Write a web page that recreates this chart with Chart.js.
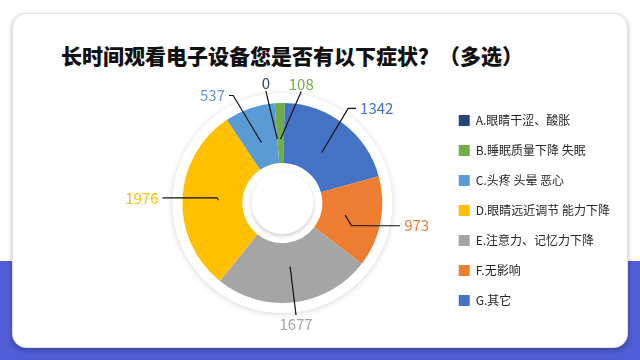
<!DOCTYPE html>
<html>
<head>
<meta charset="utf-8">
<script src="https://cdn.jsdelivr.net/npm/chart.js@4.4.0/dist/chart.umd.min.js"></script>
<style>
  body { margin: 0; width: 640px; height: 360px; position: relative; overflow: hidden; background: #fff; font-family: "Noto Sans CJK SC", sans-serif; }
  #band { position: absolute; left: 0; top: 261px; width: 640px; height: 99px; background: #505dd6; }
  #card { position: absolute; left: 12px; top: 13px; width: 614px; height: 333px; background: #fff; border: 1px solid #e2e2e2; border-radius: 14px; box-shadow: 0 2px 5px rgba(0,0,0,0.3); }
  #title { position: absolute; left: 61px; top: 40px; font-size: 21px; font-weight: 900; color: #111; white-space: nowrap; }
  #chart { position: absolute; left: 0; top: 0; }
</style>
</head>
<body>
<div id="band"></div>
<div id="card"></div>
<div id="title">长时间观看电子设备您是否有以下症状？（多选）</div>
<canvas id="chart" width="640" height="360"></canvas>
<script>
const categories = ['A.眼睛干涩、酸胀', 'B.睡眠质量下降 失眠', 'C.头疼 头晕 恶心', 'D.眼睛远近调节 能力下降', 'E.注意力、记忆力下降', 'F.无影响', 'G.其它'];
const counts = [0, 108, 537, 1976, 1677, 973, 1342];
const colors = ['#264478', '#70AD47', '#5B9BD5', '#FFC000', '#A5A5A5', '#ED7D31', '#4472C4'];
// slices go round clockwise from the top in this order (B first, A last)
const sliceOrder = [1, 6, 5, 4, 3, 2, 0];

// white rings round the doughnut + value labels with leader lines
const decorPlugin = {
    id: 'decor',
    beforeDatasetsDraw(chart) {
        const arc = chart.getDatasetMeta(0).data[0];
        const ctx = chart.ctx;
        ctx.save();
        ctx.shadowColor = 'rgba(0,0,0,0.16)';
        ctx.shadowBlur = 6;
        ctx.shadowOffsetY = 1;
        ctx.fillStyle = '#fff';
        ctx.beginPath();
        ctx.arc(arc.x, arc.y, arc.outerRadius + 10, 0, Math.PI * 2);
        ctx.fill();
        ctx.restore();
    },
    afterDatasetsDraw(chart) {
        const ctx = chart.ctx;
        const arcs = chart.getDatasetMeta(0).data;
        const cx = arcs[0].x, cy = arcs[0].y;
        const outer = arcs[0].outerRadius, inner = arcs[0].innerRadius;

        // inner raised circle
        ctx.save();
        ctx.shadowColor = 'rgba(0,0,0,0.2)';
        ctx.shadowBlur = 4;
        ctx.shadowOffsetY = 2;
        ctx.fillStyle = '#fff';
        ctx.beginPath();
        ctx.arc(cx, cy, inner - 9, 0, Math.PI * 2);
        ctx.fill();
        ctx.restore();

        // label angles, spread apart where slices are too thin
        const mids = arcs.map(a => (a.startAngle + a.endAngle) / 2);
        const angles = mids.slice();
        const minGap = 18 * Math.PI / 180;
        for (let k = 0; k < 60; k++) {
            for (let i = 0; i < angles.length; i++) {
                for (let j = i + 1; j < angles.length; j++) {
                    let d = angles[j] - angles[i];
                    while (d > Math.PI) d -= Math.PI * 2;
                    while (d <= -Math.PI) d += Math.PI * 2;
                    if (Math.abs(d) < minGap) {
                        const push = (minGap - Math.abs(d)) / 2 * (d < 0 ? -1 : 1);
                        angles[i] -= push;
                        angles[j] += push;
                    }
                }
            }
        }

        const ra = 64;
        const vals = chart.data.datasets[0].data;
        const cols = chart.data.datasets[0].backgroundColor;
        ctx.save();
        ctx.font = '15px "Noto Sans CJK SC"';
        ctx.strokeStyle = '#111';
        ctx.lineWidth = 1.2;
        arcs.forEach((a, i) => {
            const ax = cx + Math.cos(mids[i]) * ra;
            const ay = cy + Math.sin(mids[i]) * ra;
            const ux = Math.cos(angles[i]), uy = Math.sin(angles[i]);
            const side = Math.abs(ux) > 0.4;
            const rl = side ? outer + 20 : outer + 13;
            const px = cx + ux * rl, py = cy + uy * rl;
            ctx.beginPath();
            ctx.moveTo(ax, ay);
            ctx.fillStyle = cols[i];
            if (side) {
                const s = ux > 0 ? 1 : -1;
                const k = Math.min(Math.abs(py - ay) * 0.6, Math.abs(px - ax));
                ctx.lineTo(ax + s * k, py);
                ctx.lineTo(px, py);
                ctx.stroke();
                ctx.textAlign = s > 0 ? 'left' : 'right';
                ctx.textBaseline = 'middle';
                ctx.fillText(String(vals[i]), px + s * 4, py);
            } else {
                ctx.lineTo(px, py);
                ctx.stroke();
                ctx.textAlign = 'center';
                ctx.textBaseline = uy < 0 ? 'bottom' : 'top';
                ctx.fillText(String(vals[i]), px, uy < 0 ? py : py + 2);
            }
        });
        ctx.restore();
    }
};

new Chart(document.getElementById('chart'), {
    type: 'doughnut',
    data: {
        labels: sliceOrder.map(i => categories[i]),
        datasets: [{
            data: sliceOrder.map(i => counts[i]),
            backgroundColor: sliceOrder.map(i => colors[i]),
            borderWidth: 0,
            radius: 100,
            cutout: '40%'
        }]
    },
    options: {
        responsive: false,
        animation: false,
        events: [],
        rotation: -4.5,
        layout: { padding: { left: 124, right: 20, top: 56, bottom: 10 } },
        plugins: {
            tooltip: { enabled: false },
            legend: {
                position: 'right',
                align: 'start',
                title: { display: true, text: ' ', padding: { top: 26 } },
                labels: {
                    boxWidth: 11,
                    boxHeight: 11,
                    padding: 18,
                    color: '#262626',
                    font: { family: '"Noto Sans CJK SC"', size: 12 },
                    sort: (a, b) => sliceOrder[a.index] - sliceOrder[b.index]
                }
            }
        }
    },
    plugins: [decorPlugin]
});
</script>
</body>
</html>
